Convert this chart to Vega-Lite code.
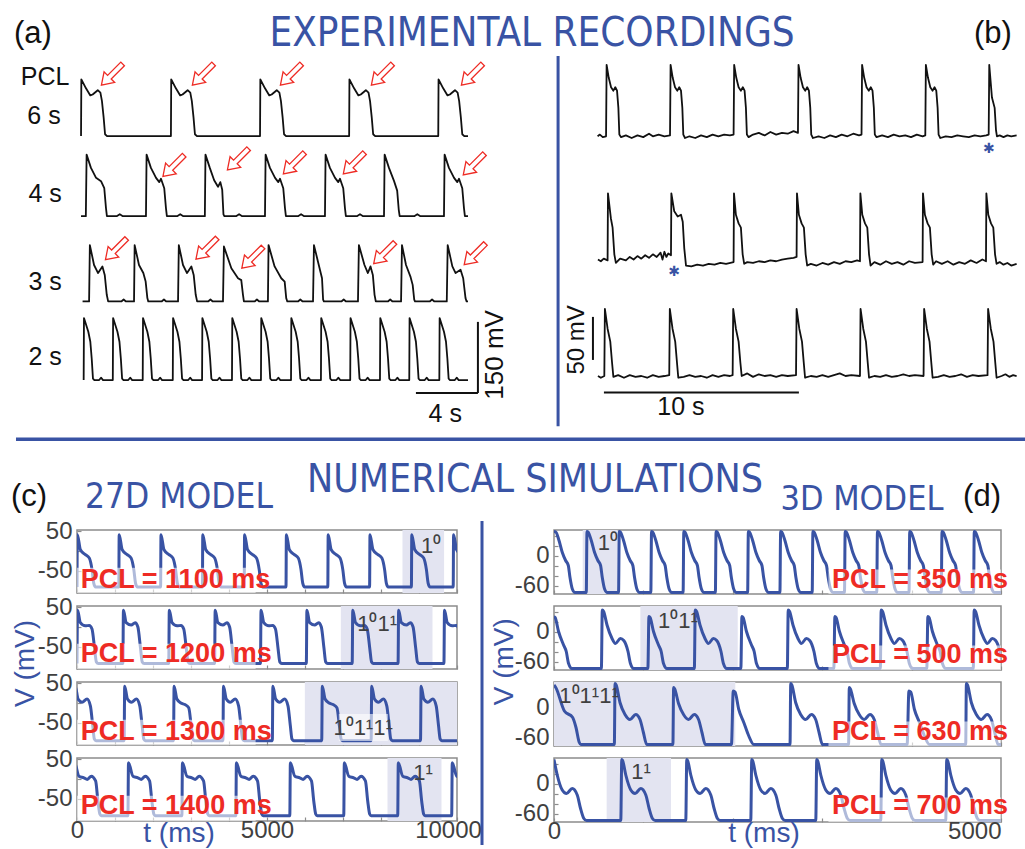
{
"$schema": "https://vega.github.io/schema/vega-lite/v6.json",
"background": "white",
"padding": {"left": 10, "top": 13, "right": 0, "bottom": 0},
"config": {"view": {"stroke": null}, "axis": {"domain": false, "grid": false, "labelFont": "Liberation Sans", "labelFontSize": 24, "labelColor": "#404040", "tickColor": "#8c8c8c", "tickSize": -4, "tickWidth": 1.2, "labelPadding": 9, "labelOverlap": false}},
"columns": 2,
"align": "each",
"bounds": "flush",
"spacing": {"row": 0, "column": 33},
"datasets": {
"a0": [{"t":0,"v":-86},{"t":0.02,"v":34},{"t":0.32,"v":15},{"t":0.6,"v":0},{"t":0.75,"v":2},{"t":1.08,"v":11},{"t":1.25,"v":6},{"t":1.35,"v":-12},{"t":1.46,"v":-47},{"t":1.55,"v":-82},{"t":1.68,"v":-86},{"t":5.8,"v":-86},
{"t":5.82,"v":34},{"t":6.12,"v":15},{"t":6.4,"v":0},{"t":6.55,"v":2},{"t":6.88,"v":11},{"t":7.05,"v":6},{"t":7.15,"v":-12},{"t":7.26,"v":-47},{"t":7.35,"v":-82},{"t":7.48,"v":-86},{"t":11.55,"v":-86},
{"t":11.57,"v":34},{"t":11.87,"v":15},{"t":12.15,"v":0},{"t":12.3,"v":2},{"t":12.63,"v":11},{"t":12.8,"v":6},{"t":12.9,"v":-12},{"t":13.01,"v":-47},{"t":13.1,"v":-82},{"t":13.23,"v":-86},{"t":17.3,"v":-86},
{"t":17.32,"v":34},{"t":17.62,"v":15},{"t":17.9,"v":0},{"t":18.05,"v":2},{"t":18.38,"v":11},{"t":18.55,"v":6},{"t":18.65,"v":-12},{"t":18.76,"v":-47},{"t":18.85,"v":-82},{"t":18.98,"v":-86},{"t":23.05,"v":-86},
{"t":23.07,"v":34},{"t":23.37,"v":15},{"t":23.65,"v":0},{"t":23.8,"v":2},{"t":24.13,"v":11},{"t":24.3,"v":6},{"t":24.4,"v":-12},{"t":24.51,"v":-47},{"t":24.6,"v":-82},{"t":24.73,"v":-86},{"t":24.97,"v":-86}],
"a1": [{"t":0,"v":-84},{"t":0.31,"v":-84},{"t":0.36,"v":46},{"t":0.64,"v":18},{"t":0.97,"v":-3},{"t":1.29,"v":-10},{"t":1.5,"v":-25},{"t":1.61,"v":-67},{"t":1.67,"v":-84},{"t":2.3,"v":-84},{"t":2.5,"v":-80},{"t":2.7,"v":-84},{"t":4.19,"v":-84},
{"t":4.23,"v":46},{"t":4.51,"v":18},{"t":4.84,"v":-3},{"t":5.05,"v":-12},{"t":5.16,"v":-5},{"t":5.37,"v":-25},{"t":5.48,"v":-67},{"t":5.54,"v":-84},{"t":6.2,"v":-84},{"t":6.4,"v":-80},{"t":6.6,"v":-84},{"t":7.99,"v":-84},
{"t":8.03,"v":46},{"t":8.31,"v":18},{"t":8.59,"v":-8},{"t":8.84,"v":-22},{"t":8.99,"v":-12},{"t":9.11,"v":-28},{"t":9.19,"v":-80},{"t":9.25,"v":-84},{"t":10.0,"v":-84},{"t":10.2,"v":-80},{"t":10.4,"v":-84},{"t":11.87,"v":-84},
{"t":11.91,"v":46},{"t":12.19,"v":18},{"t":12.52,"v":-3},{"t":12.73,"v":-12},{"t":12.84,"v":-5},{"t":13.05,"v":-25},{"t":13.16,"v":-67},{"t":13.22,"v":-84},{"t":14.0,"v":-84},{"t":14.2,"v":-80},{"t":14.4,"v":-84},{"t":15.74,"v":-84},
{"t":15.78,"v":46},{"t":16.06,"v":18},{"t":16.39,"v":-3},{"t":16.6,"v":-12},{"t":16.71,"v":-5},{"t":16.92,"v":-25},{"t":17.03,"v":-67},{"t":17.09,"v":-84},{"t":17.8,"v":-84},{"t":18.0,"v":-80},{"t":18.2,"v":-84},{"t":19.55,"v":-84},
{"t":19.59,"v":46},{"t":19.87,"v":18},{"t":20.2,"v":-10},{"t":20.4,"v":-30},{"t":20.5,"v":-70},{"t":20.56,"v":-84},{"t":21.5,"v":-84},{"t":21.7,"v":-80},{"t":21.9,"v":-84},{"t":23.42,"v":-84},
{"t":23.46,"v":46},{"t":23.74,"v":18},{"t":24.07,"v":-3},{"t":24.28,"v":-12},{"t":24.39,"v":-5},{"t":24.6,"v":-25},{"t":24.71,"v":-67},{"t":24.77,"v":-84},{"t":24.97,"v":-84}],
"a2": [{"t":0.1,"v":-93},{"t":0.52,"v":-93},{"t":0.57,"v":26},{"t":0.84,"v":-16},{"t":1.1,"v":-33},{"t":1.38,"v":-19},{"t":1.53,"v":-37},{"t":1.66,"v":-79},{"t":1.75,"v":-93},{"t":2.6,"v":-93},{"t":2.75,"v":-89},{"t":2.9,"v":-93},{"t":3.42,"v":-93},
{"t":3.46,"v":26},{"t":3.74,"v":-16},{"t":4.02,"v":-33},{"t":4.17,"v":-51},{"t":4.28,"v":-86},{"t":4.34,"v":-93},{"t":5.2,"v":-93},{"t":5.35,"v":-89},{"t":5.5,"v":-93},{"t":6.26,"v":-93},
{"t":6.31,"v":26},{"t":6.58,"v":-16},{"t":6.84,"v":-33},{"t":7.12,"v":-19},{"t":7.27,"v":-37},{"t":7.4,"v":-79},{"t":7.49,"v":-93},{"t":8.2,"v":-93},{"t":8.35,"v":-89},{"t":8.5,"v":-93},{"t":9.16,"v":-93},
{"t":9.22,"v":23},{"t":9.7,"v":-23},{"t":10.13,"v":-44},{"t":10.34,"v":-48},{"t":10.45,"v":-79},{"t":10.51,"v":-93},{"t":11.2,"v":-93},{"t":11.35,"v":-89},{"t":11.5,"v":-93},{"t":12.06,"v":-93},
{"t":12.1,"v":26},{"t":12.49,"v":-19},{"t":12.92,"v":-44},{"t":13.14,"v":-51},{"t":13.24,"v":-86},{"t":13.31,"v":-93},{"t":14.0,"v":-93},{"t":14.15,"v":-89},{"t":14.3,"v":-93},{"t":14.97,"v":-93},
{"t":15.03,"v":26},{"t":15.29,"v":-9},{"t":15.55,"v":-44},{"t":15.62,"v":-89},{"t":15.67,"v":-93},{"t":16.8,"v":-93},{"t":16.95,"v":-89},{"t":17.1,"v":-93},{"t":17.87,"v":-93},
{"t":17.93,"v":26},{"t":18.29,"v":-16},{"t":18.51,"v":-33},{"t":18.68,"v":-19},{"t":18.83,"v":-37},{"t":18.94,"v":-79},{"t":19.02,"v":-93},{"t":19.8,"v":-93},{"t":19.95,"v":-89},{"t":20.1,"v":-93},{"t":20.65,"v":-93},
{"t":20.71,"v":26},{"t":20.97,"v":-16},{"t":21.25,"v":-40},{"t":21.4,"v":-58},{"t":21.5,"v":-89},{"t":21.55,"v":-93},{"t":22.5,"v":-93},{"t":22.65,"v":-89},{"t":22.8,"v":-93},{"t":23.6,"v":-93},
{"t":23.66,"v":26},{"t":23.96,"v":-19},{"t":24.17,"v":-33},{"t":24.49,"v":-26},{"t":24.66,"v":-44},{"t":24.81,"v":-86},{"t":24.88,"v":-93},{"t":24.97,"v":-93}],
"a3": [{"t":0.17,"v":-88},{"t":0.19,"v":43},{"t":0.47,"v":14},{"t":0.6,"v":-7},{"t":0.69,"v":-43},{"t":0.77,"v":-85},{"t":0.86,"v":-88},{"t":1.17,"v":-88},{"t":1.29,"v":-83},{"t":1.42,"v":-88},
{"t":2.05,"v":-88},{"t":2.07,"v":43},{"t":2.35,"v":14},{"t":2.48,"v":-7},{"t":2.57,"v":-43},{"t":2.65,"v":-85},{"t":2.74,"v":-88},{"t":3.05,"v":-88},{"t":3.17,"v":-83},{"t":3.3,"v":-88},
{"t":3.98,"v":-88},{"t":4.0,"v":43},{"t":4.28,"v":14},{"t":4.41,"v":-7},{"t":4.5,"v":-43},{"t":4.58,"v":-85},{"t":4.67,"v":-88},{"t":4.98,"v":-88},{"t":5.1,"v":-83},{"t":5.23,"v":-88},
{"t":5.92,"v":-88},{"t":5.94,"v":43},{"t":6.22,"v":14},{"t":6.35,"v":-7},{"t":6.44,"v":-43},{"t":6.52,"v":-85},{"t":6.61,"v":-88},{"t":6.92,"v":-88},{"t":7.04,"v":-83},{"t":7.17,"v":-88},
{"t":7.81,"v":-88},{"t":7.83,"v":43},{"t":8.11,"v":14},{"t":8.24,"v":-7},{"t":8.33,"v":-43},{"t":8.41,"v":-85},{"t":8.5,"v":-88},{"t":8.81,"v":-88},{"t":8.93,"v":-83},{"t":9.06,"v":-88},
{"t":9.74,"v":-88},{"t":9.76,"v":43},{"t":10.04,"v":14},{"t":10.17,"v":-7},{"t":10.26,"v":-43},{"t":10.34,"v":-85},{"t":10.43,"v":-88},{"t":10.74,"v":-88},{"t":10.86,"v":-83},{"t":10.99,"v":-88},
{"t":11.61,"v":-88},{"t":11.63,"v":43},{"t":11.91,"v":14},{"t":12.04,"v":-7},{"t":12.13,"v":-43},{"t":12.21,"v":-85},{"t":12.3,"v":-88},{"t":12.61,"v":-88},{"t":12.73,"v":-83},{"t":12.86,"v":-88},
{"t":13.55,"v":-88},{"t":13.57,"v":43},{"t":13.85,"v":14},{"t":13.98,"v":-7},{"t":14.07,"v":-43},{"t":14.15,"v":-85},{"t":14.24,"v":-88},{"t":14.55,"v":-88},{"t":14.67,"v":-83},{"t":14.8,"v":-88},
{"t":15.48,"v":-88},{"t":15.5,"v":43},{"t":15.78,"v":14},{"t":15.91,"v":-7},{"t":16.0,"v":-43},{"t":16.08,"v":-85},{"t":16.17,"v":-88},{"t":16.48,"v":-88},{"t":16.6,"v":-83},{"t":16.73,"v":-88},
{"t":17.37,"v":-88},{"t":17.39,"v":43},{"t":17.67,"v":14},{"t":17.8,"v":-7},{"t":17.89,"v":-43},{"t":17.97,"v":-85},{"t":18.06,"v":-88},{"t":18.37,"v":-88},{"t":18.49,"v":-83},{"t":18.62,"v":-88},
{"t":19.29,"v":-88},{"t":19.31,"v":43},{"t":19.59,"v":14},{"t":19.72,"v":-7},{"t":19.81,"v":-43},{"t":19.89,"v":-85},{"t":19.98,"v":-88},{"t":20.29,"v":-88},{"t":20.41,"v":-83},{"t":20.54,"v":-88},
{"t":21.18,"v":-88},{"t":21.2,"v":43},{"t":21.48,"v":14},{"t":21.61,"v":-7},{"t":21.7,"v":-43},{"t":21.78,"v":-85},{"t":21.87,"v":-88},{"t":22.18,"v":-88},{"t":22.3,"v":-83},{"t":22.43,"v":-88},
{"t":23.12,"v":-88},{"t":23.14,"v":43},{"t":23.42,"v":14},{"t":23.55,"v":-7},{"t":23.64,"v":-43},{"t":23.72,"v":-85},{"t":23.81,"v":-88},{"t":24.12,"v":-88},{"t":24.24,"v":-83},{"t":24.37,"v":-88},{"t":24.97,"v":-88}],
"b0": [{"t":0.03,"v":-62},{"t":0.15,"v":-60},{"t":0.3,"v":-63},{"t":0.47,"v":-62},{"t":0.5,"v":21},{"t":0.61,"v":6},{"t":0.73,"v":-5},{"t":0.85,"v":-9},{"t":0.95,"v":-5},{"t":1.04,"v":-9},{"t":1.11,"v":-29},{"t":1.16,"v":-60},{"t":1.25,"v":-63},
{"t":1.5,"v":-61},{"t":1.8,"v":-64},{"t":2.1,"v":-61},{"t":2.4,"v":-63},{"t":2.7,"v":-59},{"t":2.9,"v":-62},{"t":3.2,"v":-60},{"t":3.5,"v":-62},{"t":3.79,"v":-61},
{"t":3.82,"v":21},{"t":3.93,"v":6},{"t":4.05,"v":-5},{"t":4.17,"v":-9},{"t":4.27,"v":-5},{"t":4.36,"v":-9},{"t":4.43,"v":-29},{"t":4.48,"v":-60},{"t":4.57,"v":-64},
{"t":4.8,"v":-62},{"t":5.1,"v":-64},{"t":5.4,"v":-61},{"t":5.7,"v":-63},{"t":6.0,"v":-60},{"t":6.3,"v":-62},{"t":6.6,"v":-60},{"t":6.9,"v":-61},{"t":7.09,"v":-60},
{"t":7.12,"v":21},{"t":7.23,"v":6},{"t":7.35,"v":-5},{"t":7.47,"v":-9},{"t":7.57,"v":-5},{"t":7.66,"v":-9},{"t":7.73,"v":-29},{"t":7.78,"v":-60},{"t":7.87,"v":-63},
{"t":8.1,"v":-60},{"t":8.4,"v":-58},{"t":8.7,"v":-61},{"t":9.0,"v":-57},{"t":9.3,"v":-60},{"t":9.6,"v":-58},{"t":9.9,"v":-59},{"t":10.2,"v":-56},{"t":10.43,"v":-58},
{"t":10.46,"v":21},{"t":10.57,"v":6},{"t":10.69,"v":-5},{"t":10.81,"v":-9},{"t":10.91,"v":-5},{"t":11.0,"v":-9},{"t":11.07,"v":-29},{"t":11.12,"v":-60},{"t":11.21,"v":-64},
{"t":11.5,"v":-62},{"t":11.8,"v":-64},{"t":12.1,"v":-61},{"t":12.4,"v":-63},{"t":12.7,"v":-60},{"t":13.0,"v":-62},{"t":13.3,"v":-59},{"t":13.6,"v":-61},{"t":13.73,"v":-60},
{"t":13.76,"v":21},{"t":13.87,"v":6},{"t":13.99,"v":-5},{"t":14.11,"v":-9},{"t":14.21,"v":-5},{"t":14.3,"v":-9},{"t":14.37,"v":-29},{"t":14.42,"v":-60},{"t":14.51,"v":-63},
{"t":14.8,"v":-61},{"t":15.1,"v":-63},{"t":15.4,"v":-60},{"t":15.7,"v":-62},{"t":16.0,"v":-61},{"t":16.3,"v":-63},{"t":16.6,"v":-60},{"t":16.9,"v":-62},{"t":17.04,"v":-61},
{"t":17.07,"v":21},{"t":17.18,"v":6},{"t":17.3,"v":-5},{"t":17.42,"v":-9},{"t":17.52,"v":-5},{"t":17.61,"v":-9},{"t":17.68,"v":-29},{"t":17.73,"v":-60},{"t":17.82,"v":-64},
{"t":18.1,"v":-62},{"t":18.4,"v":-63},{"t":18.7,"v":-61},{"t":19.0,"v":-62},{"t":19.3,"v":-63},{"t":19.6,"v":-61},{"t":19.9,"v":-62},{"t":20.2,"v":-61},{"t":20.33,"v":-60},
{"t":20.36,"v":21},{"t":20.5,"v":-17},{"t":20.64,"v":-29},{"t":20.71,"v":-55},{"t":20.76,"v":-62},{"t":20.9,"v":-61},{"t":21.1,"v":-63},{"t":21.3,"v":-61},{"t":21.5,"v":-62},{"t":21.78,"v":-61}],
"b1": [{"t":0.05,"v":-55},{"t":0.2,"v":-57},{"t":0.35,"v":-54},{"t":0.55,"v":-56},{"t":0.57,"v":22},{"t":0.72,"v":-7},{"t":0.81,"v":-18},{"t":0.9,"v":-49},{"t":0.98,"v":-59},
{"t":1.2,"v":-54},{"t":1.5,"v":-56},{"t":1.7,"v":-52},{"t":1.9,"v":-55},{"t":2.1,"v":-51},{"t":2.3,"v":-54},{"t":2.5,"v":-50},{"t":2.7,"v":-53},{"t":2.9,"v":-49},{"t":3.1,"v":-52},{"t":3.3,"v":-47},{"t":3.4,"v":-55},{"t":3.5,"v":-46},{"t":3.6,"v":-52},{"t":3.7,"v":-48},{"t":3.84,"v":-50},
{"t":3.86,"v":22},{"t":4.01,"v":1},{"t":4.19,"v":-5},{"t":4.36,"v":-3},{"t":4.45,"v":-11},{"t":4.53,"v":-42},{"t":4.62,"v":-62},
{"t":4.9,"v":-63},{"t":5.2,"v":-61},{"t":5.5,"v":-62},{"t":5.8,"v":-60},{"t":6.1,"v":-61},{"t":6.4,"v":-59},{"t":6.7,"v":-60},{"t":7.09,"v":-58},
{"t":7.11,"v":22},{"t":7.21,"v":-3},{"t":7.35,"v":-13},{"t":7.47,"v":-18},{"t":7.56,"v":-49},{"t":7.64,"v":-60},
{"t":7.8,"v":-58},{"t":8.1,"v":-59},{"t":8.4,"v":-57},{"t":8.7,"v":-58},{"t":9.0,"v":-56},{"t":9.3,"v":-57},{"t":9.6,"v":-55},{"t":9.9,"v":-54},{"t":10.2,"v":-53},{"t":10.36,"v":-52},
{"t":10.38,"v":22},{"t":10.48,"v":-3},{"t":10.62,"v":-13},{"t":10.74,"v":-18},{"t":10.83,"v":-49},{"t":10.91,"v":-62},
{"t":11.1,"v":-60},{"t":11.4,"v":-62},{"t":11.7,"v":-59},{"t":12.0,"v":-61},{"t":12.3,"v":-58},{"t":12.6,"v":-60},{"t":12.9,"v":-57},{"t":13.2,"v":-58},{"t":13.5,"v":-56},{"t":13.65,"v":-57},
{"t":13.67,"v":22},{"t":13.77,"v":-3},{"t":13.91,"v":-13},{"t":14.03,"v":-18},{"t":14.12,"v":-49},{"t":14.2,"v":-62},
{"t":14.4,"v":-58},{"t":14.7,"v":-61},{"t":15.0,"v":-57},{"t":15.3,"v":-60},{"t":15.6,"v":-58},{"t":15.9,"v":-61},{"t":16.2,"v":-57},{"t":16.5,"v":-59},{"t":16.9,"v":-58},
{"t":16.92,"v":22},{"t":17.02,"v":-3},{"t":17.16,"v":-13},{"t":17.28,"v":-18},{"t":17.37,"v":-49},{"t":17.45,"v":-61},
{"t":17.6,"v":-57},{"t":17.9,"v":-60},{"t":18.2,"v":-57},{"t":18.5,"v":-61},{"t":18.8,"v":-58},{"t":19.1,"v":-60},{"t":19.4,"v":-56},{"t":19.7,"v":-59},{"t":20.0,"v":-55},{"t":20.19,"v":-57},
{"t":20.21,"v":22},{"t":20.31,"v":-3},{"t":20.45,"v":-13},{"t":20.57,"v":-18},{"t":20.66,"v":-49},{"t":20.74,"v":-60},
{"t":20.9,"v":-58},{"t":21.1,"v":-61},{"t":21.3,"v":-59},{"t":21.5,"v":-62},{"t":21.78,"v":-60}],
"b2": [{"t":0.05,"v":-56},{"t":0.2,"v":-58},{"t":0.38,"v":-56},{"t":0.41,"v":22},{"t":0.55,"v":-1},{"t":0.69,"v":-16},{"t":0.78,"v":-40},{"t":0.85,"v":-57},
{"t":1.1,"v":-55},{"t":1.4,"v":-58},{"t":1.7,"v":-55},{"t":2.0,"v":-57},{"t":2.3,"v":-56},{"t":2.6,"v":-58},{"t":2.9,"v":-55},{"t":3.2,"v":-57},{"t":3.5,"v":-56},{"t":3.75,"v":-55},
{"t":3.78,"v":22},{"t":3.92,"v":-1},{"t":4.06,"v":-16},{"t":4.15,"v":-40},{"t":4.22,"v":-58},
{"t":4.5,"v":-57},{"t":4.8,"v":-55},{"t":5.1,"v":-57},{"t":5.4,"v":-56},{"t":5.7,"v":-58},{"t":6.0,"v":-55},{"t":6.3,"v":-57},{"t":6.6,"v":-55},{"t":6.9,"v":-56},{"t":7.04,"v":-55},
{"t":7.07,"v":22},{"t":7.21,"v":-1},{"t":7.35,"v":-16},{"t":7.44,"v":-40},{"t":7.51,"v":-56},
{"t":7.8,"v":-53},{"t":8.1,"v":-57},{"t":8.4,"v":-54},{"t":8.7,"v":-56},{"t":9.0,"v":-55},{"t":9.3,"v":-57},{"t":9.6,"v":-55},{"t":9.9,"v":-56},{"t":10.33,"v":-55},
{"t":10.36,"v":22},{"t":10.5,"v":-1},{"t":10.64,"v":-16},{"t":10.73,"v":-40},{"t":10.8,"v":-58},
{"t":11.1,"v":-56},{"t":11.4,"v":-57},{"t":11.7,"v":-55},{"t":12.0,"v":-57},{"t":12.3,"v":-55},{"t":12.6,"v":-53},{"t":12.9,"v":-56},{"t":13.2,"v":-55},{"t":13.65,"v":-56},
{"t":13.68,"v":22},{"t":13.82,"v":-1},{"t":13.96,"v":-16},{"t":14.05,"v":-40},{"t":14.12,"v":-58},
{"t":14.4,"v":-56},{"t":14.7,"v":-57},{"t":15.0,"v":-55},{"t":15.3,"v":-57},{"t":15.6,"v":-56},{"t":15.9,"v":-54},{"t":16.2,"v":-56},{"t":16.5,"v":-55},{"t":16.95,"v":-56},
{"t":16.98,"v":22},{"t":17.12,"v":-1},{"t":17.26,"v":-16},{"t":17.35,"v":-40},{"t":17.42,"v":-58},
{"t":17.7,"v":-57},{"t":18.0,"v":-55},{"t":18.3,"v":-57},{"t":18.6,"v":-56},{"t":18.9,"v":-54},{"t":19.2,"v":-57},{"t":19.5,"v":-55},{"t":19.8,"v":-56},{"t":20.27,"v":-55},
{"t":20.3,"v":22},{"t":20.44,"v":-1},{"t":20.58,"v":-16},{"t":20.67,"v":-40},{"t":20.74,"v":-58},
{"t":21.0,"v":-56},{"t":21.2,"v":-54},{"t":21.4,"v":-57},{"t":21.6,"v":-55},{"t":21.78,"v":-56}],
"c0": [{"t":0,"v":-91},{"t":10,"v":41},{"t":90,"v":3},{"t":220,"v":-9},{"t":325,"v":-18},{"t":395,"v":-47},{"t":440,"v":-81},{"t":490,"v":-91},
{"t":1100,"v":-91},{"t":1110,"v":41},{"t":1190,"v":3},{"t":1320,"v":-9},{"t":1425,"v":-18},{"t":1495,"v":-47},{"t":1540,"v":-81},{"t":1590,"v":-91},
{"t":2200,"v":-91},{"t":2210,"v":41},{"t":2290,"v":3},{"t":2420,"v":-9},{"t":2525,"v":-18},{"t":2595,"v":-47},{"t":2640,"v":-81},{"t":2690,"v":-91},
{"t":3300,"v":-91},{"t":3310,"v":41},{"t":3390,"v":3},{"t":3520,"v":-9},{"t":3625,"v":-18},{"t":3695,"v":-47},{"t":3740,"v":-81},{"t":3790,"v":-91},
{"t":4400,"v":-91},{"t":4410,"v":41},{"t":4490,"v":3},{"t":4620,"v":-9},{"t":4725,"v":-18},{"t":4795,"v":-47},{"t":4840,"v":-81},{"t":4890,"v":-91},
{"t":5500,"v":-91},{"t":5510,"v":41},{"t":5590,"v":3},{"t":5720,"v":-9},{"t":5825,"v":-18},{"t":5895,"v":-47},{"t":5940,"v":-81},{"t":5990,"v":-91},
{"t":6600,"v":-91},{"t":6610,"v":41},{"t":6690,"v":3},{"t":6820,"v":-9},{"t":6925,"v":-18},{"t":6995,"v":-47},{"t":7040,"v":-81},{"t":7090,"v":-91},
{"t":7700,"v":-91},{"t":7710,"v":41},{"t":7790,"v":3},{"t":7920,"v":-9},{"t":8025,"v":-18},{"t":8095,"v":-47},{"t":8140,"v":-81},{"t":8190,"v":-91},
{"t":8800,"v":-91},{"t":8810,"v":41},{"t":8890,"v":3},{"t":9020,"v":-9},{"t":9125,"v":-18},{"t":9195,"v":-47},{"t":9240,"v":-81},{"t":9290,"v":-91},
{"t":9900,"v":-91},{"t":9910,"v":41},{"t":9990,"v":3},{"t":10120,"v":-9}],
"c1": [{"t":0,"v":-92},{"t":15,"v":42},{"t":88,"v":11},{"t":219,"v":3},{"t":324,"v":4},{"t":395,"v":-5},{"t":465,"v":-56},{"t":509,"v":-88},{"t":560,"v":-92},
{"t":1207,"v":-92},{"t":1222,"v":42},{"t":1295,"v":11},{"t":1426,"v":5},{"t":1531,"v":11},{"t":1602,"v":0},{"t":1672,"v":-54},{"t":1716,"v":-88},{"t":1767,"v":-92},
{"t":2414,"v":-92},{"t":2429,"v":42},{"t":2502,"v":11},{"t":2633,"v":3},{"t":2738,"v":4},{"t":2809,"v":-5},{"t":2879,"v":-56},{"t":2923,"v":-88},{"t":2974,"v":-92},
{"t":3621,"v":-92},{"t":3636,"v":42},{"t":3709,"v":11},{"t":3840,"v":5},{"t":3945,"v":11},{"t":4016,"v":0},{"t":4086,"v":-54},{"t":4130,"v":-88},{"t":4181,"v":-92},
{"t":4828,"v":-92},{"t":4843,"v":42},{"t":4916,"v":11},{"t":5047,"v":3},{"t":5152,"v":4},{"t":5223,"v":-5},{"t":5293,"v":-56},{"t":5337,"v":-88},{"t":5388,"v":-92},
{"t":6035,"v":-92},{"t":6050,"v":42},{"t":6123,"v":11},{"t":6254,"v":5},{"t":6359,"v":11},{"t":6430,"v":0},{"t":6500,"v":-54},{"t":6544,"v":-88},{"t":6595,"v":-92},
{"t":7242,"v":-92},{"t":7257,"v":42},{"t":7330,"v":11},{"t":7461,"v":3},{"t":7566,"v":4},{"t":7637,"v":-5},{"t":7707,"v":-56},{"t":7751,"v":-88},{"t":7802,"v":-92},
{"t":8449,"v":-92},{"t":8464,"v":42},{"t":8537,"v":11},{"t":8668,"v":5},{"t":8773,"v":11},{"t":8844,"v":0},{"t":8914,"v":-54},{"t":8958,"v":-88},{"t":9009,"v":-92},
{"t":9656,"v":-92},{"t":9671,"v":42},{"t":9744,"v":11},{"t":9875,"v":3},{"t":9980,"v":4},{"t":10051,"v":-5}],
"c2": [{"t":-60,"v":-95},{"t":-45,"v":42},{"t":28,"v":10},{"t":133,"v":2},{"t":264,"v":10},{"t":352,"v":-7},{"t":414,"v":-57},{"t":457,"v":-91},{"t":500,"v":-95},
{"t":1240,"v":-95},{"t":1255,"v":42},{"t":1328,"v":10},{"t":1433,"v":2},{"t":1564,"v":10},{"t":1652,"v":-7},{"t":1714,"v":-57},{"t":1757,"v":-91},{"t":1800,"v":-95},
{"t":2540,"v":-95},{"t":2555,"v":42},{"t":2628,"v":10},{"t":2733,"v":0},{"t":2840,"v":-4},{"t":2940,"v":-12},{"t":3005,"v":-57},{"t":3050,"v":-91},{"t":3090,"v":-95},
{"t":3840,"v":-95},{"t":3855,"v":42},{"t":3928,"v":10},{"t":4033,"v":2},{"t":4164,"v":10},{"t":4252,"v":-7},{"t":4314,"v":-57},{"t":4357,"v":-91},{"t":4400,"v":-95},
{"t":5140,"v":-95},{"t":5155,"v":42},{"t":5228,"v":10},{"t":5333,"v":2},{"t":5464,"v":10},{"t":5552,"v":-7},{"t":5614,"v":-57},{"t":5657,"v":-91},{"t":5700,"v":-95},
{"t":6440,"v":-95},{"t":6455,"v":42},{"t":6528,"v":10},{"t":6633,"v":0},{"t":6740,"v":-4},{"t":6840,"v":-12},{"t":6905,"v":-57},{"t":6950,"v":-91},{"t":6990,"v":-95},
{"t":7740,"v":-95},{"t":7755,"v":42},{"t":7828,"v":10},{"t":7933,"v":2},{"t":8064,"v":10},{"t":8152,"v":-7},{"t":8214,"v":-57},{"t":8257,"v":-91},{"t":8300,"v":-95},
{"t":9040,"v":-95},{"t":9055,"v":42},{"t":9128,"v":10},{"t":9233,"v":2},{"t":9364,"v":10},{"t":9452,"v":-7},{"t":9514,"v":-57},{"t":9557,"v":-91},{"t":9600,"v":-95},{"t":10000,"v":-95}],
"c3": [{"t":-80,"v":-93},{"t":-65,"v":41},{"t":52,"v":7},{"t":183,"v":3},{"t":271,"v":-1},{"t":376,"v":7},{"t":490,"v":-5},{"t":551,"v":-56},{"t":604,"v":-89},{"t":640,"v":-93},
{"t":1340,"v":-93},{"t":1355,"v":41},{"t":1472,"v":7},{"t":1603,"v":3},{"t":1691,"v":-1},{"t":1796,"v":7},{"t":1910,"v":-5},{"t":1971,"v":-56},{"t":2024,"v":-89},{"t":2060,"v":-93},
{"t":2760,"v":-93},{"t":2775,"v":41},{"t":2892,"v":7},{"t":3023,"v":3},{"t":3111,"v":-1},{"t":3216,"v":7},{"t":3330,"v":-5},{"t":3391,"v":-56},{"t":3444,"v":-89},{"t":3480,"v":-93},
{"t":4180,"v":-93},{"t":4195,"v":41},{"t":4312,"v":7},{"t":4443,"v":3},{"t":4531,"v":-1},{"t":4636,"v":7},{"t":4750,"v":-5},{"t":4811,"v":-56},{"t":4864,"v":-89},{"t":4900,"v":-93},
{"t":5600,"v":-93},{"t":5615,"v":41},{"t":5732,"v":7},{"t":5863,"v":3},{"t":5951,"v":-1},{"t":6056,"v":7},{"t":6170,"v":-5},{"t":6231,"v":-56},{"t":6284,"v":-89},{"t":6320,"v":-93},
{"t":7020,"v":-93},{"t":7035,"v":41},{"t":7152,"v":7},{"t":7283,"v":3},{"t":7371,"v":-1},{"t":7476,"v":7},{"t":7590,"v":-5},{"t":7651,"v":-56},{"t":7704,"v":-89},{"t":7740,"v":-93},
{"t":8440,"v":-93},{"t":8455,"v":41},{"t":8572,"v":7},{"t":8703,"v":3},{"t":8791,"v":-1},{"t":8896,"v":7},{"t":9010,"v":-5},{"t":9071,"v":-56},{"t":9124,"v":-89},{"t":9160,"v":-93},
{"t":9860,"v":-93},{"t":9875,"v":41},{"t":9992,"v":7},{"t":10123,"v":3}],
"d0": [{"t":0,"v":48},{"t":20,"v":47},{"t":56,"v":30},{"t":93,"v":6},{"t":130,"v":-10},{"t":160,"v":-20},{"t":179,"v":-44},{"t":205,"v":-67},{"t":235,"v":-74},
{"t":361,"v":-74},{"t":369,"v":48},{"t":381,"v":47},{"t":417,"v":30},{"t":454,"v":6},{"t":491,"v":-10},{"t":521,"v":-20},{"t":540,"v":-44},{"t":566,"v":-67},{"t":596,"v":-74},
{"t":722,"v":-74},{"t":730,"v":48},{"t":742,"v":47},{"t":778,"v":30},{"t":815,"v":6},{"t":852,"v":-10},{"t":882,"v":-20},{"t":901,"v":-44},{"t":927,"v":-67},{"t":957,"v":-74},
{"t":1083,"v":-74},{"t":1091,"v":48},{"t":1103,"v":47},{"t":1139,"v":30},{"t":1176,"v":6},{"t":1213,"v":-10},{"t":1243,"v":-20},{"t":1262,"v":-44},{"t":1288,"v":-67},{"t":1318,"v":-74},
{"t":1444,"v":-74},{"t":1452,"v":48},{"t":1464,"v":47},{"t":1500,"v":30},{"t":1537,"v":6},{"t":1574,"v":-10},{"t":1604,"v":-20},{"t":1623,"v":-44},{"t":1649,"v":-67},{"t":1679,"v":-74},
{"t":1805,"v":-74},{"t":1813,"v":48},{"t":1825,"v":47},{"t":1861,"v":30},{"t":1898,"v":6},{"t":1935,"v":-10},{"t":1965,"v":-20},{"t":1984,"v":-44},{"t":2010,"v":-67},{"t":2040,"v":-74},
{"t":2166,"v":-74},{"t":2174,"v":48},{"t":2186,"v":47},{"t":2222,"v":30},{"t":2259,"v":6},{"t":2296,"v":-10},{"t":2326,"v":-20},{"t":2345,"v":-44},{"t":2371,"v":-67},{"t":2401,"v":-74},
{"t":2527,"v":-74},{"t":2535,"v":48},{"t":2547,"v":47},{"t":2583,"v":30},{"t":2620,"v":6},{"t":2657,"v":-10},{"t":2687,"v":-20},{"t":2706,"v":-44},{"t":2732,"v":-67},{"t":2762,"v":-74},
{"t":2888,"v":-74},{"t":2896,"v":48},{"t":2908,"v":47},{"t":2944,"v":30},{"t":2981,"v":6},{"t":3018,"v":-10},{"t":3048,"v":-20},{"t":3067,"v":-44},{"t":3093,"v":-67},{"t":3123,"v":-74},
{"t":3249,"v":-74},{"t":3257,"v":48},{"t":3269,"v":47},{"t":3305,"v":30},{"t":3342,"v":6},{"t":3379,"v":-10},{"t":3409,"v":-20},{"t":3428,"v":-44},{"t":3454,"v":-67},{"t":3484,"v":-74},
{"t":3610,"v":-74},{"t":3618,"v":48},{"t":3630,"v":47},{"t":3666,"v":30},{"t":3703,"v":6},{"t":3740,"v":-10},{"t":3770,"v":-20},{"t":3789,"v":-44},{"t":3815,"v":-67},{"t":3845,"v":-74},
{"t":3971,"v":-74},{"t":3979,"v":48},{"t":3991,"v":47},{"t":4027,"v":30},{"t":4064,"v":6},{"t":4101,"v":-10},{"t":4131,"v":-20},{"t":4150,"v":-44},{"t":4176,"v":-67},{"t":4206,"v":-74},
{"t":4332,"v":-74},{"t":4340,"v":48},{"t":4352,"v":47},{"t":4388,"v":30},{"t":4425,"v":6},{"t":4462,"v":-10},{"t":4492,"v":-20},{"t":4511,"v":-44},{"t":4537,"v":-67},{"t":4567,"v":-74},
{"t":4693,"v":-74},{"t":4701,"v":48},{"t":4713,"v":47},{"t":4749,"v":30},{"t":4786,"v":6},{"t":4823,"v":-10},{"t":4853,"v":-20},{"t":4872,"v":-44},{"t":4898,"v":-67},{"t":4928,"v":-74},{"t":5000,"v":-74}],
"d1": [{"t":0,"v":30},{"t":13,"v":28},{"t":51,"v":0},{"t":107,"v":-27},{"t":137,"v":-40},{"t":163,"v":-64},{"t":201,"v":-74},
{"t":530,"v":-74},{"t":540,"v":43},{"t":555,"v":40},{"t":593,"v":13},{"t":649,"v":-14},{"t":687,"v":-24},{"t":743,"v":-14},{"t":780,"v":-18},{"t":828,"v":-40},{"t":855,"v":-64},{"t":892,"v":-74},
{"t":1050,"v":-74},{"t":1062,"v":30},{"t":1075,"v":28},{"t":1113,"v":0},{"t":1169,"v":-27},{"t":1199,"v":-40},{"t":1225,"v":-64},{"t":1263,"v":-74},
{"t":1570,"v":-74},{"t":1580,"v":43},{"t":1595,"v":40},{"t":1633,"v":13},{"t":1689,"v":-14},{"t":1727,"v":-24},{"t":1783,"v":-14},{"t":1820,"v":-18},{"t":1868,"v":-40},{"t":1895,"v":-64},{"t":1932,"v":-74},
{"t":2090,"v":-74},{"t":2102,"v":30},{"t":2115,"v":28},{"t":2153,"v":0},{"t":2209,"v":-27},{"t":2239,"v":-40},{"t":2265,"v":-64},{"t":2303,"v":-74},
{"t":2610,"v":-74},{"t":2620,"v":43},{"t":2635,"v":40},{"t":2673,"v":13},{"t":2729,"v":-14},{"t":2767,"v":-24},{"t":2823,"v":-14},{"t":2860,"v":-18},{"t":2908,"v":-40},{"t":2935,"v":-64},{"t":2972,"v":-74},
{"t":3130,"v":-74},{"t":3142,"v":30},{"t":3155,"v":28},{"t":3193,"v":0},{"t":3249,"v":-27},{"t":3279,"v":-40},{"t":3305,"v":-64},{"t":3343,"v":-74},
{"t":3650,"v":-74},{"t":3660,"v":43},{"t":3675,"v":40},{"t":3713,"v":13},{"t":3769,"v":-14},{"t":3807,"v":-24},{"t":3863,"v":-14},{"t":3900,"v":-18},{"t":3948,"v":-40},{"t":3975,"v":-64},{"t":4012,"v":-74},
{"t":4170,"v":-74},{"t":4182,"v":30},{"t":4195,"v":28},{"t":4233,"v":0},{"t":4289,"v":-27},{"t":4319,"v":-40},{"t":4345,"v":-64},{"t":4383,"v":-74},
{"t":4690,"v":-74},{"t":4700,"v":43},{"t":4715,"v":40},{"t":4753,"v":13},{"t":4809,"v":-14},{"t":4847,"v":-24},{"t":4903,"v":-14},{"t":4940,"v":-18},{"t":4988,"v":-40},{"t":5015,"v":-64}],
"d2": [{"t":0,"v":45},{"t":20,"v":40},{"t":116,"v":-7},{"t":209,"v":-20},{"t":246,"v":-40},{"t":283,"v":-70},{"t":300,"v":-74},
{"t":675,"v":-74},{"t":683,"v":48},{"t":695,"v":45},{"t":738,"v":10},{"t":794,"v":-14},{"t":850,"v":-24},{"t":914,"v":-14},{"t":962,"v":-24},{"t":1000,"v":-50},{"t":1037,"v":-74},
{"t":1330,"v":-74},{"t":1338,"v":40},{"t":1350,"v":37},{"t":1393,"v":8},{"t":1449,"v":-14},{"t":1505,"v":-24},{"t":1569,"v":-14},{"t":1617,"v":-24},{"t":1655,"v":-50},{"t":1692,"v":-74},
{"t":1985,"v":-74},{"t":2005,"v":33},{"t":2025,"v":31},{"t":2067,"v":-4},{"t":2123,"v":-30},{"t":2179,"v":-57},{"t":2235,"v":-74},
{"t":2640,"v":-74},{"t":2648,"v":48},{"t":2660,"v":45},{"t":2703,"v":10},{"t":2759,"v":-14},{"t":2815,"v":-24},{"t":2879,"v":-14},{"t":2927,"v":-24},{"t":2965,"v":-50},{"t":3002,"v":-74},
{"t":3295,"v":-74},{"t":3303,"v":40},{"t":3315,"v":37},{"t":3358,"v":8},{"t":3414,"v":-14},{"t":3470,"v":-24},{"t":3534,"v":-14},{"t":3582,"v":-24},{"t":3620,"v":-50},{"t":3657,"v":-74},
{"t":3950,"v":-74},{"t":3970,"v":33},{"t":3990,"v":31},{"t":4032,"v":-4},{"t":4088,"v":-30},{"t":4144,"v":-57},{"t":4200,"v":-74},
{"t":4605,"v":-74},{"t":4613,"v":48},{"t":4625,"v":45},{"t":4668,"v":10},{"t":4724,"v":-14},{"t":4780,"v":-24},{"t":4844,"v":-14},{"t":4892,"v":-24},{"t":4930,"v":-50},{"t":4967,"v":-74},{"t":5000,"v":-74}],
"d3": [{"t":0,"v":48},{"t":36,"v":17},{"t":92,"v":-13},{"t":140,"v":-20},{"t":204,"v":-10},{"t":260,"v":-23},{"t":297,"v":-50},{"t":334,"v":-70},{"t":364,"v":-74},
{"t":747,"v":-74},{"t":758,"v":48},{"t":767,"v":46},{"t":803,"v":17},{"t":859,"v":-13},{"t":907,"v":-20},{"t":971,"v":-10},{"t":1027,"v":-23},{"t":1064,"v":-50},{"t":1101,"v":-70},{"t":1131,"v":-74},
{"t":1474,"v":-74},{"t":1485,"v":48},{"t":1494,"v":46},{"t":1530,"v":17},{"t":1586,"v":-13},{"t":1634,"v":-20},{"t":1698,"v":-10},{"t":1754,"v":-23},{"t":1791,"v":-50},{"t":1828,"v":-70},{"t":1858,"v":-74},
{"t":2201,"v":-74},{"t":2212,"v":48},{"t":2221,"v":46},{"t":2257,"v":17},{"t":2313,"v":-13},{"t":2361,"v":-20},{"t":2425,"v":-10},{"t":2481,"v":-23},{"t":2518,"v":-50},{"t":2555,"v":-70},{"t":2585,"v":-74},
{"t":2928,"v":-74},{"t":2939,"v":48},{"t":2948,"v":46},{"t":2984,"v":17},{"t":3040,"v":-13},{"t":3088,"v":-20},{"t":3152,"v":-10},{"t":3208,"v":-23},{"t":3245,"v":-50},{"t":3282,"v":-70},{"t":3312,"v":-74},
{"t":3655,"v":-74},{"t":3666,"v":48},{"t":3675,"v":46},{"t":3711,"v":17},{"t":3767,"v":-13},{"t":3815,"v":-20},{"t":3879,"v":-10},{"t":3935,"v":-23},{"t":3972,"v":-50},{"t":4009,"v":-70},{"t":4039,"v":-74},
{"t":4382,"v":-74},{"t":4393,"v":48},{"t":4402,"v":46},{"t":4438,"v":17},{"t":4494,"v":-13},{"t":4542,"v":-20},{"t":4606,"v":-10},{"t":4662,"v":-23},{"t":4699,"v":-50},{"t":4736,"v":-70},{"t":4766,"v":-74},{"t":5000,"v":-74}]
},
"concat": [
  {"width": 444, "height": 80.7,
   "encoding": {"x": {"field": "t", "type": "quantitative", "scale": {"domain": [-0.26, 28.39], "nice": false, "zero": false}, "axis": null}, "y": {"field": "v", "type": "quantitative", "scale": {"domain": [-97.8, 72.7], "nice": false, "zero": false}, "axis": null}},
   "layer": [
    {"data": {"name": "a0"}, "mark": {"type": "line", "color": "#111111", "strokeWidth": 1.8, "strokeJoin": "round"}},
    {"data": {"values": [{"t": 29.1, "v": 104.4, "s": "EXPERIMENTAL RECORDINGS"}]}, "mark": {"type": "text", "font": "Liberation Sans Narrow, DejaVu Sans Condensed, sans-serif", "fontSize": 40, "color": "#3953a4", "align": "center", "baseline": "alphabetic"}, "encoding": {"text": {"field": "s"}}},
    {"data": {"values": [{"t": -3.1, "v": 129.8, "s": "(a)"}]}, "mark": {"type": "text", "font": "Liberation Sans", "fontSize": 31, "color": "#111111", "align": "center", "baseline": "middle"}, "encoding": {"text": {"field": "s"}}},
    {"data": {"values": [{"t": -2.32, "v": 38.9, "s": "PCL"}, {"t": -2.39, "v": -43.6, "s": "6 s"}]}, "mark": {"type": "text", "font": "Liberation Sans", "fontSize": 25, "color": "#111111", "align": "center", "baseline": "middle"}, "encoding": {"text": {"field": "s"}}},
    {"data": {"values": [{"t": 2.0, "v": 44.2}, {"t": 7.87, "v": 44.2}, {"t": 13.55, "v": 44.2}, {"t": 19.42, "v": 44.2}, {"t": 25.23, "v": 44.2}]}, "mark": {"type": "point", "shape": "M -1 -0.17 L 0.25 -0.17 L 0.25 -0.5 L 1 0 L 0.25 0.5 L 0.25 0.17 L -1 0.17 Z", "angle": 135, "size": 900, "filled": false, "color": "#ee2b24", "strokeWidth": 1.3, "opacity": 1}}
   ]},
  {"width": 463, "height": 80.7,
   "encoding": {"x": {"field": "t", "type": "quantitative", "scale": {"domain": [-2.2315, 21.8], "nice": false, "zero": false}, "axis": null}, "y": {"field": "v", "type": "quantitative", "scale": {"domain": [-68.3, 25.5], "nice": false, "zero": false}, "axis": null}},
   "layer": [
    {"data": {"values": [{"t": -2.02, "t2": -2.02, "v": 31.3, "v2": -398.9}]}, "mark": {"type": "rule", "color": "#3953a4", "strokeWidth": 3}, "encoding": {"x2": {"field": "t2"}, "y2": {"field": "v2"}}},
    {"data": {"name": "b0"}, "mark": {"type": "line", "color": "#111111", "strokeWidth": 1.8, "strokeJoin": "round"}},
    {"data": {"values": [{"t": 20.55, "v": 56.9, "s": "(b)"}]}, "mark": {"type": "text", "font": "Liberation Sans", "fontSize": 31, "color": "#111111", "align": "center", "baseline": "middle"}, "encoding": {"text": {"field": "s"}}},
    {"data": {"values": [{"t": 20.34, "v": -76.8, "s": "\u2731"}]}, "mark": {"type": "text", "font": "DejaVu Sans", "fontSize": 14, "color": "#3953a4", "align": "center", "baseline": "middle"}, "encoding": {"text": {"field": "s"}}}
   ]},

  {"width": 444, "height": 80.7,
   "encoding": {"x": {"field": "t", "type": "quantitative", "scale": {"domain": [-0.26, 28.39], "nice": false, "zero": false}, "axis": null}, "y": {"field": "v", "type": "quantitative", "scale": {"domain": [-97.8, 72.7], "nice": false, "zero": false}, "axis": null}},
   "layer": [
    {"data": {"name": "a1"}, "mark": {"type": "line", "color": "#111111", "strokeWidth": 1.8, "strokeJoin": "round"}},
    {"data": {"values": [{"t": -2.32, "v": -37.9, "s": "4 s"}]}, "mark": {"type": "text", "font": "Liberation Sans", "fontSize": 25, "color": "#111111", "align": "center", "baseline": "middle"}, "encoding": {"text": {"field": "s"}}},
    {"data": {"values": [{"t": 5.97, "v": 22.4}, {"t": 10.13, "v": 36.1}, {"t": 13.74, "v": 27.7}, {"t": 17.61, "v": 27.7}, {"t": 25.35, "v": 25.6}]}, "mark": {"type": "point", "shape": "M -1 -0.17 L 0.25 -0.17 L 0.25 -0.5 L 1 0 L 0.25 0.5 L 0.25 0.17 L -1 0.17 Z", "angle": 135, "size": 900, "filled": false, "color": "#ee2b24", "strokeWidth": 1.3, "opacity": 1}}
   ]},
  {"width": 463, "height": 80.7,
   "encoding": {"x": {"field": "t", "type": "quantitative", "scale": {"domain": [-2.2315, 21.8], "nice": false, "zero": false}, "axis": null}, "y": {"field": "v", "type": "quantitative", "scale": {"domain": [-12.2, 81.6], "nice": false, "zero": false}, "axis": null}},
   "layer": [
    {"data": {"name": "b1"}, "mark": {"type": "line", "color": "#111111", "strokeWidth": 1.8, "strokeJoin": "round"}},
    {"data": {"values": [{"t": 4.0, "v": -69.9, "s": "\u2731"}]}, "mark": {"type": "text", "font": "DejaVu Sans", "fontSize": 14, "color": "#3953a4", "align": "center", "baseline": "middle"}, "encoding": {"text": {"field": "s"}}}
   ]},

  {"width": 444, "height": 80.7,
   "encoding": {"x": {"field": "t", "type": "quantitative", "scale": {"domain": [-0.26, 28.39], "nice": false, "zero": false}, "axis": null}, "y": {"field": "v", "type": "quantitative", "scale": {"domain": [-97.8, 72.7], "nice": false, "zero": false}, "axis": null}},
   "layer": [
    {"data": {"name": "a2"}, "mark": {"type": "line", "color": "#111111", "strokeWidth": 1.8, "strokeJoin": "round"}},
    {"data": {"values": [{"t": -2.32, "v": -51.2, "s": "3 s"}]}, "mark": {"type": "text", "font": "Liberation Sans", "fontSize": 25, "color": "#111111", "align": "center", "baseline": "middle"}, "encoding": {"text": {"field": "s"}}},
    {"data": {"values": [{"t": 2.26, "v": 17.5}, {"t": 8.1, "v": 18.6}, {"t": 11.06, "v": -0.4}, {"t": 19.57, "v": 9.1}, {"t": 25.41, "v": 6.9}]}, "mark": {"type": "point", "shape": "M -1 -0.17 L 0.25 -0.17 L 0.25 -0.5 L 1 0 L 0.25 0.5 L 0.25 0.17 L -1 0.17 Z", "angle": 135, "size": 900, "filled": false, "color": "#ee2b24", "strokeWidth": 1.3, "opacity": 1}}
   ]},
  {"width": 463, "height": 0, "data": {"values": []}, "mark": "point"},

  {"width": 444, "height": 80.7,
   "encoding": {"x": {"field": "t", "type": "quantitative", "scale": {"domain": [-0.26, 28.39], "nice": false, "zero": false}, "axis": null}, "y": {"field": "v", "type": "quantitative", "scale": {"domain": [-97.8, 72.7], "nice": false, "zero": false}, "axis": null}},
   "layer": [
    {"data": {"name": "a3"}, "mark": {"type": "line", "color": "#111111", "strokeWidth": 1.8, "strokeJoin": "round"}},
    {"data": {"values": [{"t": 21.61, "t2": 25.61, "v": -115.3, "v2": -115.3}, {"t": 25.61, "t2": 25.61, "v": -115.3, "v2": 34.9}]}, "mark": {"type": "rule", "color": "#111111", "strokeWidth": 2}, "encoding": {"x2": {"field": "t2"}, "y2": {"field": "v2"}}},
    {"data": {"values": [{"t": -2.32, "v": -39.1, "s": "2 s"}, {"t": 23.5, "v": -159.6, "s": "4 s"}]}, "mark": {"type": "text", "font": "Liberation Sans", "fontSize": 25, "color": "#111111", "align": "center", "baseline": "middle"}, "encoding": {"text": {"field": "s"}}},
    {"data": {"values": [{"t": 26.7, "v": -34.9, "s": "150 mV"}]}, "mark": {"type": "text", "font": "Liberation Sans", "fontSize": 26, "color": "#111111", "align": "center", "baseline": "middle", "angle": 270}, "encoding": {"text": {"field": "s"}}}
   ]},
  {"width": 463, "height": 80.7,
   "encoding": {"x": {"field": "t", "type": "quantitative", "scale": {"domain": [-2.2315, 21.8], "nice": false, "zero": false}, "axis": null}, "y": {"field": "v", "type": "quantitative", "scale": {"domain": [-66.1, 27.7], "nice": false, "zero": false}, "axis": null}},
   "layer": [
    {"data": {"name": "b2"}, "mark": {"type": "line", "color": "#111111", "strokeWidth": 1.8, "strokeJoin": "round"}},
    {"data": {"values": [{"t": -0.21, "t2": -0.21, "v": 12.7, "v2": -37.3}, {"t": 0.36, "t2": 10.48, "v": -75.3, "v2": -75.3}]}, "mark": {"type": "rule", "color": "#111111", "strokeWidth": 2}, "encoding": {"x2": {"field": "t2"}, "y2": {"field": "v2"}}},
    {"data": {"values": [{"t": 4.36, "v": -92, "s": "10 s"}]}, "mark": {"type": "text", "font": "Liberation Sans", "fontSize": 25, "color": "#111111", "align": "center", "baseline": "middle"}, "encoding": {"text": {"field": "s"}}},
    {"data": {"values": [{"t": -1.04, "v": -14, "s": "50 mV"}]}, "mark": {"type": "text", "font": "Liberation Sans", "fontSize": 24, "color": "#111111", "align": "center", "baseline": "middle", "angle": 270}, "encoding": {"text": {"field": "s"}}}
   ]},

  {"width": 444, "height": 144.2,
   "encoding": {"x": {"field": "x", "type": "quantitative", "scale": {"domain": [0, 1]}, "axis": null}, "y": {"field": "y", "type": "quantitative", "scale": {"domain": [0, 1]}, "axis": null}},
   "layer": [
    {"data": {"values": [{"x": -0.1374, "x2": 2.1374, "y": 0.6241}]}, "mark": {"type": "rule", "color": "#3953a4", "strokeWidth": 3.5}, "encoding": {"x2": {"field": "x2"}}},
    {"data": {"values": [{"x": 1.0315, "y": 0.2566, "s": "NUMERICAL SIMULATIONS"}]}, "mark": {"type": "text", "font": "Liberation Sans Narrow, DejaVu Sans Condensed, sans-serif", "fontSize": 39, "color": "#3953a4", "align": "center", "baseline": "alphabetic"}, "encoding": {"text": {"field": "s"}}}
   ]},
  {"width": 463, "height": 0, "data": {"values": []}, "mark": "point"},

  {"width": 380, "height": 63, "view": {"stroke": "#8c8c8c", "strokeWidth": 1.5},
   "encoding": {"x": {"field": "t", "type": "quantitative", "scale": {"domain": [0, 10000], "nice": false, "zero": false}, "axis": {"title": null, "values": [0,1000,2000,3000,4000,5000,6000,7000,8000,9000,10000], "labels": false}}, "y": {"field": "v", "type": "quantitative", "scale": {"domain": [-106, 53], "nice": false, "zero": false}, "axis": {"title": null, "values": [-50, 0, 50], "labelExpr": "datum.value === 0 ? '' : toString(datum.value)"}}},
   "layer": [
    {"data": {"values": [{"t": 8565, "t2": 9660, "v": -106, "v2": 53}]}, "mark": {"type": "rect", "color": "#e3e4f1"}, "encoding": {"x2": {"field": "t2"}, "y2": {"field": "v2"}}},
    {"data": {"name": "c0"}, "mark": {"type": "line", "interpolate": "monotone", "clip": true, "color": "#3953a4", "strokeWidth": 3}},
    {"data": {"values": [{"t": 0, "t2": 4700, "v": -106, "v2": -42}]}, "mark": {"type": "rect", "color": "white", "opacity": 0.6}, "encoding": {"x2": {"field": "t2"}, "y2": {"field": "v2"}}},
    {"data": {"values": [{"t": 10658, "t2": 10658, "v": 75.7, "v2": -742}]}, "mark": {"type": "rule", "color": "#3953a4", "strokeWidth": 3}, "encoding": {"x2": {"field": "t2"}, "y2": {"field": "v2"}}},
    {"data": {"values": [{"t": 9317, "v": 11.4, "s": "1\u2070"}]}, "mark": {"type": "text", "font": "Liberation Sans", "fontSize": 22, "color": "#404040", "align": "center", "baseline": "middle"}, "encoding": {"text": {"field": "s"}}},
    {"data": {"values": [{"t": 100, "v": -73.2, "s": "PCL = 1100 ms"}]}, "mark": {"type": "text", "font": "Liberation Sans", "fontSize": 27, "fontWeight": "bold", "color": "#ee2b24", "align": "left", "baseline": "middle"}, "encoding": {"text": {"field": "s"}}},
    {"data": {"values": [{"t": -1263, "v": 136.3, "s": "(c)"}]}, "mark": {"type": "text", "font": "Liberation Sans", "fontSize": 31, "color": "#111111", "align": "center", "baseline": "middle"}, "encoding": {"text": {"field": "s"}}},
    {"data": {"values": [{"t": 2685, "v": 136.3, "s": "27D MODEL"}]}, "mark": {"type": "text", "font": "Liberation Sans Narrow, DejaVu Sans Condensed, sans-serif", "fontSize": 35, "color": "#3953a4", "align": "center", "baseline": "middle"}, "encoding": {"text": {"field": "s"}}}
   ]},
  {"width": 447, "height": 64, "view": {"stroke": "#8c8c8c", "strokeWidth": 1.5},
   "encoding": {"x": {"field": "t", "type": "quantitative", "scale": {"domain": [0, 5000], "nice": false, "zero": false}, "axis": {"title": null, "values": [0,1000,2000,3000,4000,5000], "labels": false}}, "y": {"field": "v", "type": "quantitative", "scale": {"domain": [-77, 51], "nice": false, "zero": false}, "axis": {"title": null, "values": [-60,-40,-20,0,20,40], "labelExpr": "datum.value === 0 || datum.value === -60 ? toString(datum.value) : ''"}}},
   "layer": [
    {"data": {"values": [{"t": 321, "t2": 712, "v": -77, "v2": 51}]}, "mark": {"type": "rect", "color": "#e3e4f1"}, "encoding": {"x2": {"field": "t2"}, "y2": {"field": "v2"}}},
    {"data": {"name": "d0"}, "mark": {"type": "line", "interpolate": "monotone", "clip": true, "color": "#3953a4", "strokeWidth": 3}},
    {"data": {"values": [{"t": 3070, "t2": 5000, "v": -77, "v2": -28}]}, "mark": {"type": "rect", "color": "white", "opacity": 0.6}, "encoding": {"x2": {"field": "t2"}, "y2": {"field": "v2"}}},
    {"data": {"values": [{"t": 604, "v": 25, "s": "1\u2070"}]}, "mark": {"type": "text", "font": "Liberation Sans", "fontSize": 22, "color": "#404040", "align": "center", "baseline": "middle"}, "encoding": {"text": {"field": "s"}}},
    {"data": {"values": [{"t": 5078, "v": -49, "s": "PCL = 350 ms"}]}, "mark": {"type": "text", "font": "Liberation Sans", "fontSize": 27, "fontWeight": "bold", "color": "#ee2b24", "align": "right", "baseline": "middle"}, "encoding": {"text": {"field": "s"}}},
    {"data": {"values": [{"t": 4788, "v": 117, "s": "(d)"}]}, "mark": {"type": "text", "font": "Liberation Sans", "fontSize": 31, "color": "#111111", "align": "center", "baseline": "middle"}, "encoding": {"text": {"field": "s"}}},
    {"data": {"values": [{"t": 3445, "v": 111, "s": "3D MODEL"}]}, "mark": {"type": "text", "font": "Liberation Sans Narrow, DejaVu Sans Condensed, sans-serif", "fontSize": 34, "color": "#3953a4", "align": "center", "baseline": "middle"}, "encoding": {"text": {"field": "s"}}}
   ]},

  {"width": 380, "height": 11.3, "data": {"values": []}, "mark": "point"},
  {"width": 447, "height": 11.3, "data": {"values": []}, "mark": "point"},

  {"width": 380, "height": 63, "view": {"stroke": "#8c8c8c", "strokeWidth": 1.5},
   "encoding": {"x": {"field": "t", "type": "quantitative", "scale": {"domain": [0, 10000], "nice": false, "zero": false}, "axis": {"title": null, "values": [0,1000,2000,3000,4000,5000,6000,7000,8000,9000,10000], "labels": false}}, "y": {"field": "v", "type": "quantitative", "scale": {"domain": [-106, 53], "nice": false, "zero": false}, "axis": {"title": null, "values": [-50, 0, 50], "labelExpr": "datum.value === 0 ? '' : toString(datum.value)"}}},
   "layer": [
    {"data": {"values": [{"t": 6943, "t2": 9355, "v": -106, "v2": 53}]}, "mark": {"type": "rect", "color": "#e3e4f1"}, "encoding": {"x2": {"field": "t2"}, "y2": {"field": "v2"}}},
    {"data": {"name": "c1"}, "mark": {"type": "line", "interpolate": "monotone", "clip": true, "color": "#3953a4", "strokeWidth": 3}},
    {"data": {"values": [{"t": 0, "t2": 4700, "v": -106, "v2": -42}]}, "mark": {"type": "rect", "color": "white", "opacity": 0.6}, "encoding": {"x2": {"field": "t2"}, "y2": {"field": "v2"}}},
    {"data": {"values": [{"t": 7896, "v": 8.8, "s": "1\u20701\u00b9"}]}, "mark": {"type": "text", "font": "Liberation Sans", "fontSize": 22, "color": "#404040", "align": "center", "baseline": "middle"}, "encoding": {"text": {"field": "s"}}},
    {"data": {"values": [{"t": 100, "v": -66.9, "s": "PCL = 1200 ms"}]}, "mark": {"type": "text", "font": "Liberation Sans", "fontSize": 27, "fontWeight": "bold", "color": "#ee2b24", "align": "left", "baseline": "middle"}, "encoding": {"text": {"field": "s"}}},
    {"data": {"values": [{"t": -1342, "v": -92.1, "s": "V (mV)"}]}, "mark": {"type": "text", "font": "Liberation Sans", "fontSize": 28, "color": "#3953a4", "align": "center", "baseline": "middle", "angle": 270}, "encoding": {"text": {"field": "s"}}}
   ]},
  {"width": 447, "height": 64, "view": {"stroke": "#8c8c8c", "strokeWidth": 1.5},
   "encoding": {"x": {"field": "t", "type": "quantitative", "scale": {"domain": [0, 5000], "nice": false, "zero": false}, "axis": {"title": null, "values": [0,1000,2000,3000,4000,5000], "labels": false}}, "y": {"field": "v", "type": "quantitative", "scale": {"domain": [-77, 51], "nice": false, "zero": false}, "axis": {"title": null, "values": [-60,-40,-20,0,20,40], "labelExpr": "datum.value === 0 || datum.value === -60 ? toString(datum.value) : ''"}}},
   "layer": [
    {"data": {"values": [{"t": 966, "t2": 2055, "v": -77, "v2": 51}]}, "mark": {"type": "rect", "color": "#e3e4f1"}, "encoding": {"x2": {"field": "t2"}, "y2": {"field": "v2"}}},
    {"data": {"name": "d1"}, "mark": {"type": "line", "interpolate": "monotone", "clip": true, "color": "#3953a4", "strokeWidth": 3}},
    {"data": {"values": [{"t": 3070, "t2": 5000, "v": -77, "v2": -28}]}, "mark": {"type": "rect", "color": "white", "opacity": 0.6}, "encoding": {"x2": {"field": "t2"}, "y2": {"field": "v2"}}},
    {"data": {"values": [{"t": 1387, "v": 21.6, "s": "1\u20701\u00b9"}]}, "mark": {"type": "text", "font": "Liberation Sans", "fontSize": 22, "color": "#404040", "align": "center", "baseline": "middle"}, "encoding": {"text": {"field": "s"}}},
    {"data": {"values": [{"t": 5078, "v": -46.4, "s": "PCL = 500 ms"}]}, "mark": {"type": "text", "font": "Liberation Sans", "fontSize": 27, "fontWeight": "bold", "color": "#ee2b24", "align": "right", "baseline": "middle"}, "encoding": {"text": {"field": "s"}}},
    {"data": {"values": [{"t": -548, "v": -60.4, "s": "V (mV)"}]}, "mark": {"type": "text", "font": "Liberation Sans", "fontSize": 28, "color": "#3953a4", "align": "center", "baseline": "middle", "angle": 270}, "encoding": {"text": {"field": "s"}}}
   ]},

  {"width": 380, "height": 11.3, "data": {"values": []}, "mark": "point"},
  {"width": 447, "height": 11.3, "data": {"values": []}, "mark": "point"},

  {"width": 380, "height": 63, "view": {"stroke": "#8c8c8c", "strokeWidth": 1.5},
   "encoding": {"x": {"field": "t", "type": "quantitative", "scale": {"domain": [0, 10000], "nice": false, "zero": false}, "axis": {"title": null, "values": [0,1000,2000,3000,4000,5000,6000,7000,8000,9000,10000], "labels": false}}, "y": {"field": "v", "type": "quantitative", "scale": {"domain": [-106, 53], "nice": false, "zero": false}, "axis": {"title": null, "values": [-50, 0, 50], "labelExpr": "datum.value === 0 ? '' : toString(datum.value)"}}},
   "layer": [
    {"data": {"values": [{"t": 5996, "t2": 10000, "v": -106, "v2": 53}]}, "mark": {"type": "rect", "color": "#e3e4f1"}, "encoding": {"x2": {"field": "t2"}, "y2": {"field": "v2"}}},
    {"data": {"name": "c2"}, "mark": {"type": "line", "interpolate": "monotone", "clip": true, "color": "#3953a4", "strokeWidth": 3}},
    {"data": {"values": [{"t": 0, "t2": 4700, "v": -106, "v2": -42}, {"t": 6890, "t2": 8180, "v": -96, "v2": -28}]}, "mark": {"type": "rect", "color": "white", "opacity": 0.6}, "encoding": {"x2": {"field": "t2"}, "y2": {"field": "v2"}}},
    {"data": {"values": [{"t": 7528, "v": -63.1, "s": "1\u20701\u00b91\u00b9"}]}, "mark": {"type": "text", "font": "Liberation Sans", "fontSize": 22, "color": "#404040", "align": "center", "baseline": "middle"}, "encoding": {"text": {"field": "s"}}},
    {"data": {"values": [{"t": 100, "v": -73.2, "s": "PCL = 1300 ms"}]}, "mark": {"type": "text", "font": "Liberation Sans", "fontSize": 27, "fontWeight": "bold", "color": "#ee2b24", "align": "left", "baseline": "middle"}, "encoding": {"text": {"field": "s"}}}
   ]},
  {"width": 447, "height": 64, "view": {"stroke": "#8c8c8c", "strokeWidth": 1.5},
   "encoding": {"x": {"field": "t", "type": "quantitative", "scale": {"domain": [0, 5000], "nice": false, "zero": false}, "axis": {"title": null, "values": [0,1000,2000,3000,4000,5000], "labels": false}}, "y": {"field": "v", "type": "quantitative", "scale": {"domain": [-77, 51], "nice": false, "zero": false}, "axis": {"title": null, "values": [-60,-40,-20,0,20,40], "labelExpr": "datum.value === 0 || datum.value === -60 ? toString(datum.value) : ''"}}},
   "layer": [
    {"data": {"values": [{"t": 0, "t2": 2028, "v": -77, "v2": 51}]}, "mark": {"type": "rect", "color": "#e3e4f1"}, "encoding": {"x2": {"field": "t2"}, "y2": {"field": "v2"}}},
    {"data": {"name": "d2"}, "mark": {"type": "line", "interpolate": "monotone", "clip": true, "color": "#3953a4", "strokeWidth": 3}},
    {"data": {"values": [{"t": 3070, "t2": 5000, "v": -77, "v2": -28}]}, "mark": {"type": "rect", "color": "white", "opacity": 0.6}, "encoding": {"x2": {"field": "t2"}, "y2": {"field": "v2"}}},
    {"data": {"values": [{"t": 392, "v": 22.2, "s": "1\u20701\u00b91\u00b9"}]}, "mark": {"type": "text", "font": "Liberation Sans", "fontSize": 22, "color": "#404040", "align": "center", "baseline": "middle"}, "encoding": {"text": {"field": "s"}}},
    {"data": {"values": [{"t": 5078, "v": -49.8, "s": "PCL = 630 ms"}]}, "mark": {"type": "text", "font": "Liberation Sans", "fontSize": 27, "fontWeight": "bold", "color": "#ee2b24", "align": "right", "baseline": "middle"}, "encoding": {"text": {"field": "s"}}}
   ]},

  {"width": 380, "height": 11.3, "data": {"values": []}, "mark": "point"},
  {"width": 447, "height": 11.3, "data": {"values": []}, "mark": "point"},

  {"width": 380, "height": 63, "view": {"stroke": "#8c8c8c", "strokeWidth": 1.5},
   "encoding": {"x": {"field": "t", "type": "quantitative", "scale": {"domain": [0, 10000], "nice": false, "zero": false}, "axis": {"title": null, "values": [0,1000,2000,3000,4000,5000,6000,7000,8000,9000,10000], "labelExpr": "datum.value % 5000 === 0 ? toString(datum.value) : ''", "labelFlush": false, "labelPadding": 1, "labelOffset": {"condition": {"test": "datum.value === 10000", "value": -9}, "value": 0}}}, "y": {"field": "v", "type": "quantitative", "scale": {"domain": [-106, 53], "nice": false, "zero": false}, "axis": {"title": null, "values": [-50, 0, 50], "labelExpr": "datum.value === 0 ? '' : toString(datum.value)"}}},
   "layer": [
    {"data": {"values": [{"t": 8171, "t2": 9592, "v": -106, "v2": 53}]}, "mark": {"type": "rect", "color": "#e3e4f1"}, "encoding": {"x2": {"field": "t2"}, "y2": {"field": "v2"}}},
    {"data": {"name": "c3"}, "mark": {"type": "line", "interpolate": "monotone", "clip": true, "color": "#3953a4", "strokeWidth": 3}},
    {"data": {"values": [{"t": 0, "t2": 4700, "v": -106, "v2": -42}]}, "mark": {"type": "rect", "color": "white", "opacity": 0.6}, "encoding": {"x2": {"field": "t2"}, "y2": {"field": "v2"}}},
    {"data": {"values": [{"t": 9107, "v": 13.9, "s": "1\u00b9"}]}, "mark": {"type": "text", "font": "Liberation Sans", "fontSize": 22, "color": "#404040", "align": "center", "baseline": "middle"}, "encoding": {"text": {"field": "s"}}},
    {"data": {"values": [{"t": 100, "v": -68.7, "s": "PCL = 1400 ms"}]}, "mark": {"type": "text", "font": "Liberation Sans", "fontSize": 27, "fontWeight": "bold", "color": "#ee2b24", "align": "left", "baseline": "middle"}, "encoding": {"text": {"field": "s"}}},
    {"data": {"values": [{"t": 2685, "v": -137.6, "s": "t (ms)"}]}, "mark": {"type": "text", "font": "Liberation Sans", "fontSize": 28, "color": "#3953a4", "align": "center", "baseline": "middle"}, "encoding": {"text": {"field": "s"}}}
   ]},
  {"width": 447, "height": 64, "view": {"stroke": "#8c8c8c", "strokeWidth": 1.5},
   "encoding": {"x": {"field": "t", "type": "quantitative", "scale": {"domain": [0, 5000], "nice": false, "zero": false}, "axis": {"title": null, "values": [0,1000,2000,3000,4000,5000], "labelExpr": "datum.value % 5000 === 0 ? toString(datum.value) : ''", "labelFlush": false, "labelPadding": 1, "labelAlign": {"condition": {"test": "datum.value === 5000", "value": "right"}, "value": "center"}}}, "y": {"field": "v", "type": "quantitative", "scale": {"domain": [-77, 51], "nice": false, "zero": false}, "axis": {"title": null, "values": [-60,-40,-20,0,20,40], "labelExpr": "datum.value === 0 || datum.value === -60 ? toString(datum.value) : ''"}}},
   "layer": [
    {"data": {"values": [{"t": 589, "t2": 1309, "v": -77, "v2": 51}]}, "mark": {"type": "rect", "color": "#e3e4f1"}, "encoding": {"x2": {"field": "t2"}, "y2": {"field": "v2"}}},
    {"data": {"name": "d3"}, "mark": {"type": "line", "interpolate": "monotone", "clip": true, "color": "#3953a4", "strokeWidth": 3}},
    {"data": {"values": [{"t": 3070, "t2": 5000, "v": -77, "v2": -28}]}, "mark": {"type": "rect", "color": "white", "opacity": 0.6}, "encoding": {"x2": {"field": "t2"}, "y2": {"field": "v2"}}},
    {"data": {"values": [{"t": 973, "v": 23, "s": "1\u00b9"}]}, "mark": {"type": "text", "font": "Liberation Sans", "fontSize": 22, "color": "#404040", "align": "center", "baseline": "middle"}, "encoding": {"text": {"field": "s"}}},
    {"data": {"values": [{"t": 5078, "v": -45, "s": "PCL = 700 ms"}]}, "mark": {"type": "text", "font": "Liberation Sans", "fontSize": 27, "fontWeight": "bold", "color": "#ee2b24", "align": "right", "baseline": "middle"}, "encoding": {"text": {"field": "s"}}},
    {"data": {"values": [{"t": 2349, "v": -101, "s": "t (ms)"}]}, "mark": {"type": "text", "font": "Liberation Sans", "fontSize": 28, "color": "#3953a4", "align": "center", "baseline": "middle"}, "encoding": {"text": {"field": "s"}}}
   ]}
]
}
